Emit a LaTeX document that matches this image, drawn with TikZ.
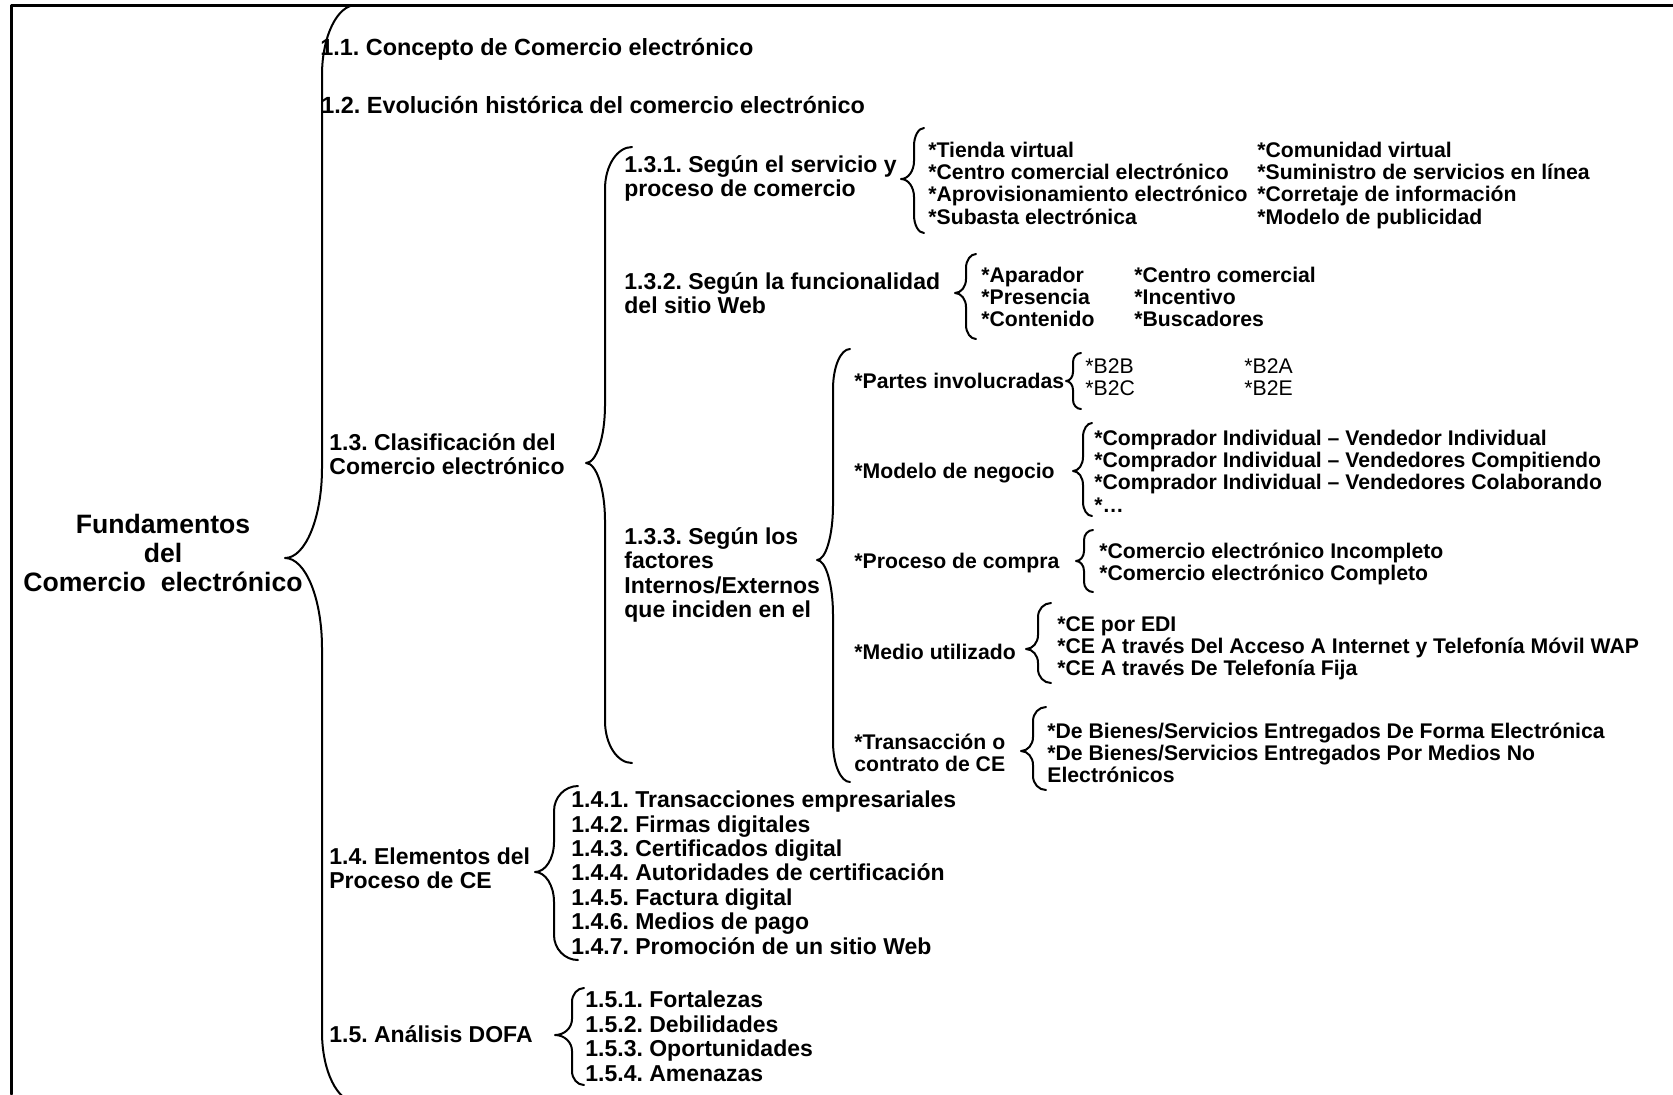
\documentclass[tikz,border=0pt]{standalone}
\usepackage{fontspec}
\setmainfont{Liberation Sans}
\frenchspacing
% arm x, stem x, tip x, top y, tip y, bottom y, end bend, tip bend
\newcommand{\curlybr}[8]{%
  \draw[brace line] (#1,#4) .. controls ({#1-0.552*(#1-#2)},#4) and (#2,{#4+0.448*#7}) .. (#2,{#4+#7})
    -- (#2,{#5-#8}) .. controls (#2,{#5-0.448*#8}) and ({#3+0.552*(#2-#3)},#5) .. (#3,#5)
    .. controls ({#3+0.552*(#2-#3)},#5) and (#2,{#5+0.448*#8}) .. (#2,{#5+#8})
    -- (#2,{#6-#7}) .. controls (#2,{#6-0.448*#7}) and ({#1-0.552*(#1-#2)},#6) .. (#1,#6);}
\begin{document}
\begin{tikzpicture}[x=0.5pt, y=-0.5pt, line join=round, line cap=round,
    root/.style={font=\bfseries\fontsize{13.3}{14.5}\selectfont, align=center, inner sep=0pt},
    lvl/.style={font=\bfseries\fontsize{11.5}{12.2}\selectfont, align=left, anchor=base west, inner sep=0pt},
    top lvl/.style={lvl, font=\bfseries\fontsize{11.7}{12.2}\selectfont},
    itm/.style={font=\bfseries\fontsize{10.6}{11.2}\selectfont, align=left, anchor=base west, inner sep=0pt},
    thin itm/.style={itm, font=\fontsize{10.6}{11.2}\selectfont},
    brace line/.style={line width=1pt}]
  \useasboundingbox (0,0) rectangle (1673,1094);
  \draw[line width=1.5pt] (11,1094) -- (11,5) -- (1673,5);

  \node[root] (fund) at (163,553) {Fundamentos\\del\\Comercio~~electrónico};
  \curlybr{356}{322}{285}{5}{558}{1102}{70}{90}

  \node[top lvl] (c11) at (320,55.5) {1.1. Concepto de Comercio electrónico};
  \node[top lvl] (c12) at (321,113.5) {1.2. Evolución histórica del comercio electrónico};

  % 1.3
  \node[lvl] (c13) at (329,474.4) {1.3. Clasificación del\\Comercio electrónico};
  \curlybr{632}{605}{586}{147}{463}{763}{42}{58}

  \node[lvl] (c131) at (624,196.9) {1.3.1. Según el servicio y\\proceso de comercio};
  \curlybr{924}{914}{901}{128}{179}{233}{18}{18}
  \node[itm] (s1a) at (928,224.2) {*Tienda virtual\\*Centro comercial electrónico\\*Aprovisionamiento electrónico\\*Subasta electrónica};
  \node[itm] (s1b) at (1257,224.2) {*Comunidad virtual\\*Suministro de servicios en línea\\*Corretaje de información\\*Modelo de publicidad};

  \node[lvl] (c132) at (624,313.9) {1.3.2. Según la funcionalidad\\del sitio Web};
  \curlybr{976}{966}{955}{254}{293}{339}{14}{14}
  \node[itm] (s2a) at (981,326.8) {*Aparador\\*Presencia\\*Contenido};
  \node[itm] (s2b) at (1134,326.8) {*Centro comercial\\*Incentivo\\*Buscadores};

  \node[lvl] (c133) at (624,617.7) {1.3.3. Según los\\factores\\Internos/Externos\\que inciden en el};
  \curlybr{850}{833}{817}{349}{560}{782}{40}{55}

  \node[itm] (partes) at (854,388) {*Partes involucradas};
  \curlybr{1081}{1073}{1066}{353}{381}{409}{9}{9}
  \node[thin itm] (p1) at (1085,395.4) {*B2B\\*B2C};
  \node[thin itm] (p2) at (1244,395.4) {*B2A\\*B2E};

  \node[itm] (modelo) at (854,478) {*Modelo de negocio};
  \curlybr{1092}{1083}{1073}{423}{471}{516}{14}{14}
  \node[itm] (m1) at (1094,512.2) {*Comprador Individual – Vendedor Individual\\*Comprador Individual – Vendedores Compitiendo\\*Comprador Individual – Vendedores Colaborando\\*…};

  \node[itm] (compra) at (854,568) {*Proceso de compra};
  \curlybr{1093}{1084}{1076}{530}{561}{592}{10}{10}
  \node[itm] (k1) at (1099,580.4) {*Comercio electrónico Incompleto\\*Comercio electrónico Completo};

  \node[itm] (medio) at (854,659) {*Medio utilizado};
  \curlybr{1051}{1038}{1026}{603}{649}{683}{14}{14}
  \node[itm] (d1) at (1057,675.8) {*CE por EDI\\*CE A través Del Acceso A Internet y Telefonía Móvil WAP\\*CE A través De Telefonía Fija};

  \node[itm] (trans) at (854,771.4) {*Transacción o\\contrato de CE};
  \curlybr{1046}{1033}{1021}{707}{751}{790}{14}{14}
  \node[itm] (t1) at (1047,782.8) {*De Bienes/Servicios Entregados De Forma Electrónica\\*De Bienes/Servicios Entregados Por Medios No\\Electrónicos};

  % 1.4
  \node[lvl] (c14) at (329,888.9) {1.4. Elementos del\\Proceso de CE};
  \curlybr{578}{554}{535}{786}{872}{960}{25}{30}
  \node[lvl] (e1) at (571,954) {1.4.1. Transacciones empresariales\\1.4.2. Firmas digitales\\1.4.3. Certificados digital\\1.4.4. Autoridades de certificación\\1.4.5. Factura digital\\1.4.6. Medios de pago\\1.4.7. Promoción de un sitio Web};

  % 1.5
  \node[lvl] (c15) at (329,1042.5) {1.5. Análisis DOFA};
  \curlybr{584}{572}{555}{988}{1035}{1085}{14}{16}
  \node[lvl] (f1) at (585,1081) {1.5.1. Fortalezas\\1.5.2. Debilidades\\1.5.3. Oportunidades\\1.5.4. Amenazas};
\end{tikzpicture}
\end{document}
